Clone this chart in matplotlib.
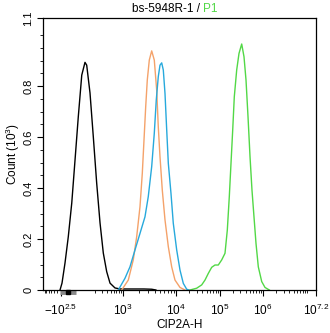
import numpy as np
import matplotlib
matplotlib.use("Agg")
import matplotlib.pyplot as plt
from matplotlib.ticker import FixedLocator, FixedFormatter
from matplotlib.transforms import blended_transform_factory

plt.rcParams["font.family"] = ["Liberation Sans", "DejaVu Sans"]
plt.rcParams["mathtext.fontset"] = "custom"
plt.rcParams["mathtext.rm"] = "Liberation Sans"
plt.rcParams["mathtext.it"] = "Liberation Sans"

# histogram traces: intensity (CIP2A-H) vs count (10^3)
black_x = [-331, -239, -118, -35, 10, 29, 49, 72, 96, 110, 140, 175, 217, 267,
           325, 397, 482, 643, 857, 1500, 2500, 3500, 4200]
black_y = [0.0, 0.027, 0.106, 0.209, 0.341, 0.51, 0.68, 0.843, 0.893, 0.882, 0.773,
           0.601, 0.42, 0.263, 0.145, 0.072, 0.027, 0.008, 0.004, 0.004, 0.004, 0.003, 0.0]

orange_x = [944, 1274, 1580, 1832, 2113, 2335, 2512, 2704, 2897, 3158, 3502, 3918,
            4345, 4656, 5012, 5534, 6220, 7178, 8299, 9575, 12330, 16030]
orange_y = [0.0, 0.039, 0.118, 0.209, 0.327, 0.458, 0.588, 0.719, 0.824, 0.902, 0.938,
            0.902, 0.784, 0.64, 0.523, 0.392, 0.275, 0.17, 0.091, 0.039, 0.01, 0.0]

blue_x = [777, 1104, 1371, 1702, 2113, 2620, 3020, 3502, 3918, 4266, 4656, 5012,
          5395, 5781, 6220, 6699, 7178, 8054, 8892, 10370, 12330, 14660, 17500, 19720]
blue_y = [0.0, 0.046, 0.091, 0.157, 0.222, 0.287, 0.366, 0.484, 0.615, 0.745, 0.837,
          0.882, 0.891, 0.863, 0.771, 0.627, 0.497, 0.379, 0.262, 0.157, 0.078, 0.026,
          0.003, 0.0]

green_x = [20800, 29510, 38370, 45600, 54200, 64740, 76900, 91400, 109600, 130900,
           148300, 165100, 181000, 198300, 216200, 246000, 278600, 322200, 364800,
           406400, 452900, 504700, 561000, 625200, 696600, 788900, 948400, 1127000,
           1409000]
green_y = [0.0, 0.007, 0.02, 0.039, 0.065, 0.089, 0.098, 0.098, 0.118, 0.144, 0.235,
           0.366, 0.497, 0.627, 0.758, 0.863, 0.928, 0.965, 0.915, 0.824, 0.68, 0.523,
           0.392, 0.287, 0.183, 0.091, 0.033, 0.01, 0.0]

major_vals = [-10**2.5, 1e3, 1e4, 1e5, 1e6, 10**7.2]
major_labels = [r"$-10^{2.5}$", r"$10^{3}$", r"$10^{4}$", r"$10^{5}$", r"$10^{6}$", r"$10^{7.2}$"]

# biexponential-like display scale (anchor values -> display position)
anchor_vals = np.array([-1000, -10**2.5, 0, 1e3, 1e4, 1e5, 1e6, 10**7.2])
anchor_pos = np.array([43, 60.7, 70, 122.7, 176, 220, 262.7, 316])
anchor_t = np.arcsinh(anchor_vals / 100)


def fwd(x):
    return np.interp(np.arcsinh(np.asarray(x, dtype=float) / 100), anchor_t, anchor_pos)


def inv(d):
    return 100 * np.sinh(np.interp(np.asarray(d, dtype=float), anchor_pos, anchor_t))


minor_vals = [-900, -800, -700, -600, -500, -400, -200, -100]
for dec in [1e2, 1e3, 1e4, 1e5, 1e6]:
    minor_vals += [k * dec for k in range(2, 10)]
minor_vals += [1e7]

fig = plt.figure(figsize=(3.3, 3.33), dpi=100)
ax = fig.add_axes([43 / 330, 43 / 333, 273 / 330, 272 / 333])
ax.set_xscale("function", functions=(fwd, inv))

ax.plot(black_x, black_y, color="black", lw=1)
ax.plot(orange_x, orange_y, color="#f4a26a", lw=1)
ax.plot(blue_x, blue_y, color="#27a9dc", lw=1)
ax.plot(green_x, green_y, color="#52d846", lw=1)

ymax = 1.067
ax.set_xlim(-1000, 10**7.2)
ax.set_ylim(0, ymax)

ax.xaxis.set_major_locator(FixedLocator(major_vals))
ax.xaxis.set_major_formatter(FixedFormatter(major_labels))
ax.xaxis.set_minor_locator(FixedLocator(minor_vals))

yt = [0, 0.2, 0.4, 0.6, 0.8, ymax]
ax.set_yticks(yt)
ax.set_yticklabels(["0" if v == 0 else f"{v:.1f}" for v in yt], rotation=90, va="center")
ax.set_yticks(np.arange(0.05, 1.05, 0.05), minor=True)

ax.tick_params(which="major", length=4, width=0.8, labelsize=8.5)
ax.tick_params(which="minor", length=2.5, width=0.6)
ax.tick_params(axis="x", which="major", pad=5)
ax.tick_params(axis="y", labelsize=8, pad=3)
for s in ax.spines.values():
    s.set_linewidth(0.9)

# event pile marker at the low end of the axis
tr = blended_transform_factory(ax.transData, ax.transAxes)
ax.plot([-331, 35], [-0.009, -0.009], color="#888888", lw=3.5, transform=tr,
        clip_on=False, solid_capstyle="butt")
ax.plot([-41], [-0.009], marker="s", ms=3, color="black", transform=tr, clip_on=False)

ax.set_xlabel("CIP2A-H", fontsize=8.5, labelpad=1)
ax.set_ylabel("Count (10$^3$)", fontsize=8.5, labelpad=1)

t1 = ax.text(0.586, 1.012, "bs-5948R-1 / ", transform=ax.transAxes, ha="right",
             va="bottom", fontsize=8.5)
ax.annotate("P1", xy=(1, 0), xycoords=t1, ha="left", va="bottom", fontsize=8.5,
            color="#52d846")

fig.savefig("out.png", dpi=100)
